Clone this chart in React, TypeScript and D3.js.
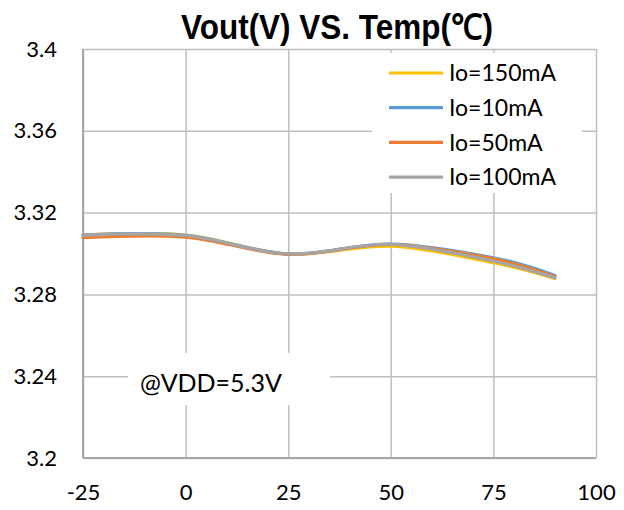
import { useEffect, useRef } from 'react'
import * as d3 from 'd3'

const temps = [-25, 0, 25, 50, 75, 90]
const io150 = [3.309, 3.309, 3.2997, 3.3036, 3.2955, 3.2878]
const io10 = [3.309, 3.3089, 3.2998, 3.3046, 3.2979, 3.2893]
const io50 = [3.3077, 3.308, 3.2996, 3.3044, 3.2974, 3.2886]
const io100 = [3.3089, 3.3088, 3.2998, 3.3045, 3.2962, 3.2881]

const seriesNames = ['Io=150mA', 'Io=10mA', 'Io=50mA', 'Io=100mA']
const seriesColors = ['#FFC000', '#5B9BD5', '#ED7D31', '#A5A5A5']
const xTicks = [-25, 0, 25, 50, 75, 100]
const yTicks = [3.2, 3.24, 3.28, 3.32, 3.36, 3.4]

const FONT = 'Lato, "Open Sans", sans-serif'

export default function App() {
  const ref = useRef<SVGSVGElement>(null)

  useEffect(() => {
    const svg = d3.select(ref.current)
    svg.selectAll('*').remove()
    const width = 624
    const height = 510
    const margin = { top: 49, right: 28, bottom: 52, left: 83 }
    const innerW = width - margin.left - margin.right
    const innerH = height - margin.top - margin.bottom

    const x = d3.scaleLinear().domain([-25, 100]).range([0, innerW])
    const y = d3.scaleLinear().domain([3.2, 3.4]).range([innerH, 0])

    svg.append('rect').attr('width', width).attr('height', height).attr('fill', '#fff')

    svg
      .append('text')
      .attr('x', 181)
      .attr('y', 39)
      .attr('textLength', 312)
      .attr('lengthAdjust', 'spacingAndGlyphs')
      .style('font-family', '"Liberation Sans", Arial, sans-serif')
      .style('font-weight', '700')
      .style('font-size', '35px')
      .attr('fill', '#000')
      .text('Vout(V) VS. Temp(℃)')

    const g = svg.append('g').attr('transform', `translate(${margin.left},${margin.top})`)

    // grid
    g.append('g')
      .call(d3.axisLeft(y).tickValues(yTicks).tickSize(-innerW).tickFormat(() => ''))
      .call((s) => s.select('.domain').remove())
      .call((s) => s.selectAll('line').attr('stroke', '#BFBFBF').attr('stroke-width', 1.5))

    g.append('g')
      .attr('transform', `translate(0,${innerH})`)
      .call(d3.axisBottom(x).tickValues(xTicks).tickSize(-innerH).tickFormat(() => ''))
      .call((s) => s.select('.domain').remove())
      .call((s) => s.selectAll('line').attr('stroke', '#BFBFBF').attr('stroke-width', 1.5))

    // axis lines
    g.append('line')
      .attr('x1', 0)
      .attr('x2', innerW)
      .attr('y1', innerH)
      .attr('y2', innerH)
      .attr('stroke', '#A6A6A6')
      .attr('stroke-width', 2)
    g.append('line')
      .attr('x1', 0)
      .attr('x2', 0)
      .attr('y1', 0)
      .attr('y2', innerH)
      .attr('stroke', '#A6A6A6')
      .attr('stroke-width', 2)

    // tick labels
    g.append('g')
      .call(d3.axisLeft(y).tickValues(yTicks).tickSize(0).tickPadding(26).tickFormat((d) => String(d)))
      .call((s) => s.select('.domain').remove())
      .call((s) =>
        s
          .selectAll('text')
          .attr('fill', '#000')
          .style('font-family', FONT)
          .style('font-size', '22px')
      )

    g.append('g')
      .attr('transform', `translate(0,${innerH})`)
      .call(d3.axisBottom(x).tickValues(xTicks).tickSize(0).tickPadding(26).tickFormat((d) => String(d)))
      .call((s) => s.select('.domain').remove())
      .call((s) =>
        s
          .selectAll('text')
          .attr('fill', '#000')
          .style('font-family', FONT)
          .style('font-size', '22px')
      )

    // series
    const allSeries = [io150, io10, io50, io100]
    const line = d3
      .line<number>()
      .x((_, i) => x(temps[i]))
      .y((d) => y(d))
      .curve(d3.curveCatmullRom.alpha(0))

    allSeries.forEach((vals, i) => {
      g.append('path')
        .datum(vals)
        .attr('d', line)
        .attr('fill', 'none')
        .attr('stroke', seriesColors[i])
        .attr('stroke-width', 3.2)
        .attr('stroke-linecap', 'round')
    })

    // legend
    const legend = svg.append('g')
    legend.append('rect').attr('x', 372).attr('y', 53).attr('width', 210).attr('height', 140).attr('fill', '#fff')
    seriesNames.forEach((name, i) => {
      const ly = 73 + i * 34.7
      legend
        .append('line')
        .attr('x1', 389)
        .attr('x2', 443)
        .attr('y1', ly)
        .attr('y2', ly)
        .attr('stroke', seriesColors[i])
        .attr('stroke-width', 3.2)
      legend
        .append('text')
        .attr('x', 449)
        .attr('y', ly)
        .attr('dy', '0.36em')
        .style('font-family', FONT)
        .style('font-size', '23px')
        .attr('fill', '#000')
        .text(name)
    })

    // annotation
    svg.append('rect').attr('x', 128).attr('y', 353).attr('width', 202).attr('height', 52).attr('fill', '#fff')
    svg
      .append('text')
      .attr('x', 140)
      .attr('y', 392)
      .style('font-family', FONT)
      .style('font-size', '25px')
      .attr('fill', '#000')
      .text('@VDD=5.3V')
  }, [])

  return <svg ref={ref} width={624} height={510} style={{ position: 'absolute', left: 0, top: 0 }} />
}
